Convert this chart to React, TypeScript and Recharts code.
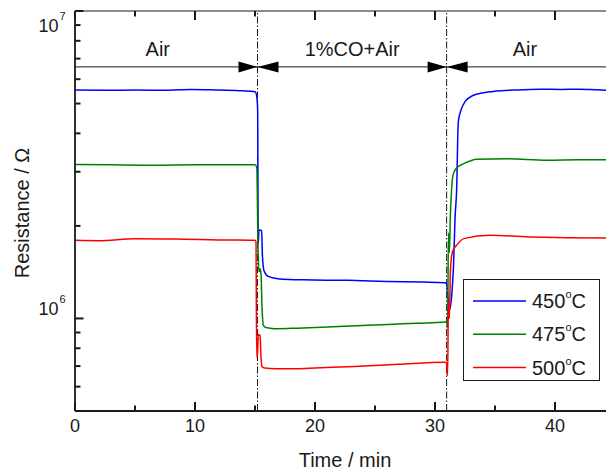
import { LineChart, Line, XAxis, YAxis, ReferenceLine, ReferenceDot, Legend } from "recharts";

const FONT = "'Liberation Sans', Arial, Helvetica, sans-serif";
const INK = "#1a1a1a";

// 450 C
const t450 = [0, 2.5, 5, 7.5, 9.7, 12, 14, 15.0, 15.12, 15.22, 15.27, 15.33, 15.4, 15.55, 15.62, 15.75, 16.1, 16.9, 19, 22.8, 26, 29, 30.8, 30.95, 31.1, 31.25, 31.4, 31.55, 31.67, 31.8, 31.94, 32.2, 32.5, 33.2, 34, 35.1, 36.5, 38.75, 40.5, 42, 43.5, 44.5];
const r450 = [5.53e6, 5.52e6, 5.53e6, 5.52e6, 5.56e6, 5.53e6, 5.5e6, 5.46e6, 5.35e6, 4.8e6, 1.75e6, 1.93e6, 1.94e6, 1.93e6, 1.6e6, 1.43e6, 1.37e6, 1.347e6, 1.335e6, 1.33e6, 1.32e6, 1.313e6, 1.307e6, 1.3e6, 1.15e6, 1.075e6, 1.2e6, 1.5e6, 2.12e6, 2.6e6, 4.36e6, 4.8e6, 5.07e6, 5.32e6, 5.42e6, 5.49e6, 5.53e6, 5.57e6, 5.56e6, 5.57e6, 5.54e6, 5.52e6];

// 475 C
const t475 = [0, 3, 6.7, 10, 13, 15.0, 15.15, 15.25, 15.33, 15.42, 15.5, 15.58, 15.7, 15.9, 16.25, 16.9, 18.5, 20.6, 23.5, 26.1, 28.5, 30.8, 30.95, 31.05, 31.12, 31.2, 31.28, 31.35, 31.5, 31.7, 32.0, 32.4, 33.5, 36, 39.3, 42, 44.5];
const r475 = [3.17e6, 3.16e6, 3.15e6, 3.16e6, 3.16e6, 3.16e6, 3.1e6, 1.7e6, 1.42e6, 1.45e6, 1.4e6, 1.1e6, 9.5e5, 9.35e5, 9.3e5, 9.26e5, 9.3e5, 9.37e5, 9.47e5, 9.56e5, 9.65e5, 9.73e5, 9.75e5, 9.3e5, 1.9e6, 1.64e6, 2.165e6, 2.5e6, 2.92e6, 3.05e6, 3.13e6, 3.19e6, 3.295e6, 3.31e6, 3.27e6, 3.28e6, 3.28e6];

// 500 C
const t500 = [0, 2, 5, 9, 12, 15.0, 15.08, 15.14, 15.2, 15.28, 15.42, 15.5, 15.58, 15.8, 16.7, 18.5, 20, 23.3, 27, 30.8, 30.95, 31.05, 31.12, 31.2, 31.28, 31.35, 31.5, 31.8, 32.4, 34.6, 38.2, 41, 44.5];
const r500 = [1.795e6, 1.79e6, 1.818e6, 1.81e6, 1.8e6, 1.795e6, 1.78e6, 7.48e5, 7.6e5, 8.87e5, 8.8e5, 7.5e5, 6.98e5, 6.9e5, 6.86e5, 6.86e5, 6.9e5, 6.98e5, 7.1e5, 7.21e5, 7.18e5, 6.52e5, 1.13e6, 1.0e6, 1.42e6, 1.55e6, 1.665e6, 1.729e6, 1.818e6, 1.864e6, 1.84e6, 1.83e6, 1.826e6];

const temps = ["450", "475", "500"];
const colors = ["#0000ff", "#008000", "#ff0000"];

const xTicks = [0, 5, 10, 15, 20, 25, 30, 35, 40, 45];
const yTicks = [5e5, 6e5, 7e5, 8e5, 9e5, 1e6, 2e6, 3e6, 4e6, 5e6, 6e6, 7e6, 8e6, 9e6, 1e7];

const switchTimes = [15.21, 30.97];
const arrowLevel = 6.58e6;
const regionNames = ["Air", "1%CO+Air", "Air"];
const regionCenters = [6.9, 23.1, 37.5];
const regionLevel = 7.13e6;

const toPoints = (t: number[], r: number[]) => t.map((x, i) => ({ t: x, r: r[i] }));
const series = [toPoints(t450, r450), toPoints(t475, r475), toPoints(t500, r500)];

function YTick({ x, y, payload }: any) {
  const v = payload.value;
  const major = v === 1e6 || v === 1e7;
  const exp = Math.round(Math.log10(v));
  const base = v === 1e7 ? y + 20.7 : y - 3;
  return (
    <g>
      <path d={`M${x},${y}H${x + (major ? 8.5 : 5.5)}`} stroke={INK} strokeWidth={2} fill="none" />
      {major && (
        <text fontFamily={FONT} fill={INK}>
          <tspan x={x - 16.5} y={base} fontSize={18} textAnchor="end">10</tspan>
          <tspan x={x - 15.5} y={base - 12} fontSize={11}>{exp}</tspan>
        </text>
      )}
    </g>
  );
}

function BottomTick({ x, y, payload }: any) {
  const major = payload.value % 10 === 0;
  return (
    <g>
      <path d={`M${x},${y}V${y - (major ? 9 : 5.5)}`} stroke={INK} strokeWidth={2} fill="none" />
      {major && (
        <text x={x} y={y + 21} textAnchor="middle" fontSize={18} fontFamily={FONT} fill={INK}>
          {payload.value}
        </text>
      )}
    </g>
  );
}

function TopTick({ x, y, payload }: any) {
  const major = payload.value % 10 === 0;
  return (
    <g>
      <path d={`M${x},${y}V${y + (major ? 9 : 5.5)}`} stroke={INK} strokeWidth={2} fill="none" />
    </g>
  );
}

function Arrows({ cx, cy }: any) {
  return (
    <g fill="#000">
      <polygon points={`${cx - 19},${cy - 5.5} ${cx},${cy} ${cx - 19},${cy + 5.5}`} />
      <polygon points={`${cx + 21},${cy - 5.5} ${cx},${cy} ${cx + 21},${cy + 5.5}`} />
    </g>
  );
}

function LegendBox({ payload }: any) {
  return (
    <svg width={137} height={102} style={{ display: "block" }}>
      <rect x={0.5} y={0.5} width={136} height={101} fill="#fff" stroke={INK} strokeWidth={1} />
      {(payload || []).map((p: any, i: number) => (
        <g key={i}>
          <line x1={10} x2={63} y1={22 + 33.3 * i} y2={22 + 33.3 * i} stroke={p.color} strokeWidth={1.5} />
          <text x={69} y={29 + 33.3 * i} fontSize={20} fontFamily={FONT} fill={INK}>
            {p.value}
            <tspan dy={-10} fontSize={11}>o</tspan>
            <tspan dy={10}>C</tspan>
          </text>
        </g>
      ))}
    </svg>
  );
}

export default function App() {
  return (
    <div style={{ position: "absolute", left: 0, top: 0, width: 606, height: 469, overflow: "hidden", background: "#fff" }}>
      <LineChart width={615} height={469} margin={{ top: 0, right: 0, bottom: 0, left: 0 }}>
        <XAxis
          xAxisId="bottom"
          dataKey="t"
          type="number"
          domain={[0, 45]}
          ticks={xTicks}
          interval={0}
          allowDataOverflow
          height={58}
          tickSize={0}
          tickMargin={0}
          tick={<BottomTick />}
          axisLine={{ stroke: INK, strokeWidth: 2 }}
          label={{
            content: () => (
              <text x={345} y={466.5} textAnchor="middle" fontSize={20} fontFamily={FONT} fill={INK}>
                Time / min
              </text>
            ),
          }}
        />
        <XAxis
          xAxisId="top"
          orientation="top"
          dataKey="t"
          type="number"
          domain={[0, 45]}
          ticks={xTicks}
          interval={0}
          allowDataOverflow
          height={11}
          tickSize={0}
          tickMargin={0}
          tick={<TopTick />}
          axisLine={{ stroke: INK, strokeWidth: 1.2 }}
        />
        <YAxis
          type="number"
          scale="log"
          domain={[5e5, 1e7]}
          ticks={yTicks}
          interval={0}
          allowDataOverflow
          width={75}
          tickSize={0}
          tickMargin={0}
          tick={<YTick />}
          axisLine={{ stroke: INK, strokeWidth: 1.8 }}
          label={{
            content: () => (
              <text
                transform="translate(22,213) rotate(-90)"
                textAnchor="middle"
                dominantBaseline="central"
                fontSize={20}
                fontFamily={FONT}
                fill={INK}
              >
                Resistance / Ω
              </text>
            ),
          }}
        />
        <ReferenceLine xAxisId="bottom" y={arrowLevel} stroke={INK} strokeWidth={1} />
        {switchTimes.map((s) => (
          <ReferenceLine key={s} xAxisId="bottom" x={s} stroke={INK} strokeWidth={1} strokeDasharray="7 2 1.5 2" />
        ))}
        {series.map((d, i) => (
          <Line
            key={temps[i]}
            xAxisId="bottom"
            data={d}
            dataKey="r"
            name={temps[i]}
            type="monotone"
            stroke={colors[i]}
            strokeWidth={1.5}
            dot={false}
            activeDot={false}
            isAnimationActive={false}
          />
        ))}
        {switchTimes.map((s) => (
          <ReferenceDot key={"a" + s} xAxisId="bottom" x={s} y={arrowLevel} r={0} shape={(p: any) => <Arrows cx={p.cx} cy={p.cy} />} />
        ))}
        {regionNames.map((name, i) => (
          <ReferenceDot
            key={"r" + i}
            xAxisId="bottom"
            x={regionCenters[i]}
            y={regionLevel}
            r={0}
            shape={(p: any) => (
              <text x={p.cx} y={p.cy} textAnchor="middle" fontSize={20} fontFamily={FONT} fill={INK}>
                {name}
              </text>
            )}
          />
        ))}
        <Legend
          layout="vertical"
          align="center"
          verticalAlign="middle"
          content={<LegendBox />}
          wrapperStyle={{ position: "absolute", left: 463, top: 279, width: 137, height: 102 }}
        />
      </LineChart>
    </div>
  );
}
